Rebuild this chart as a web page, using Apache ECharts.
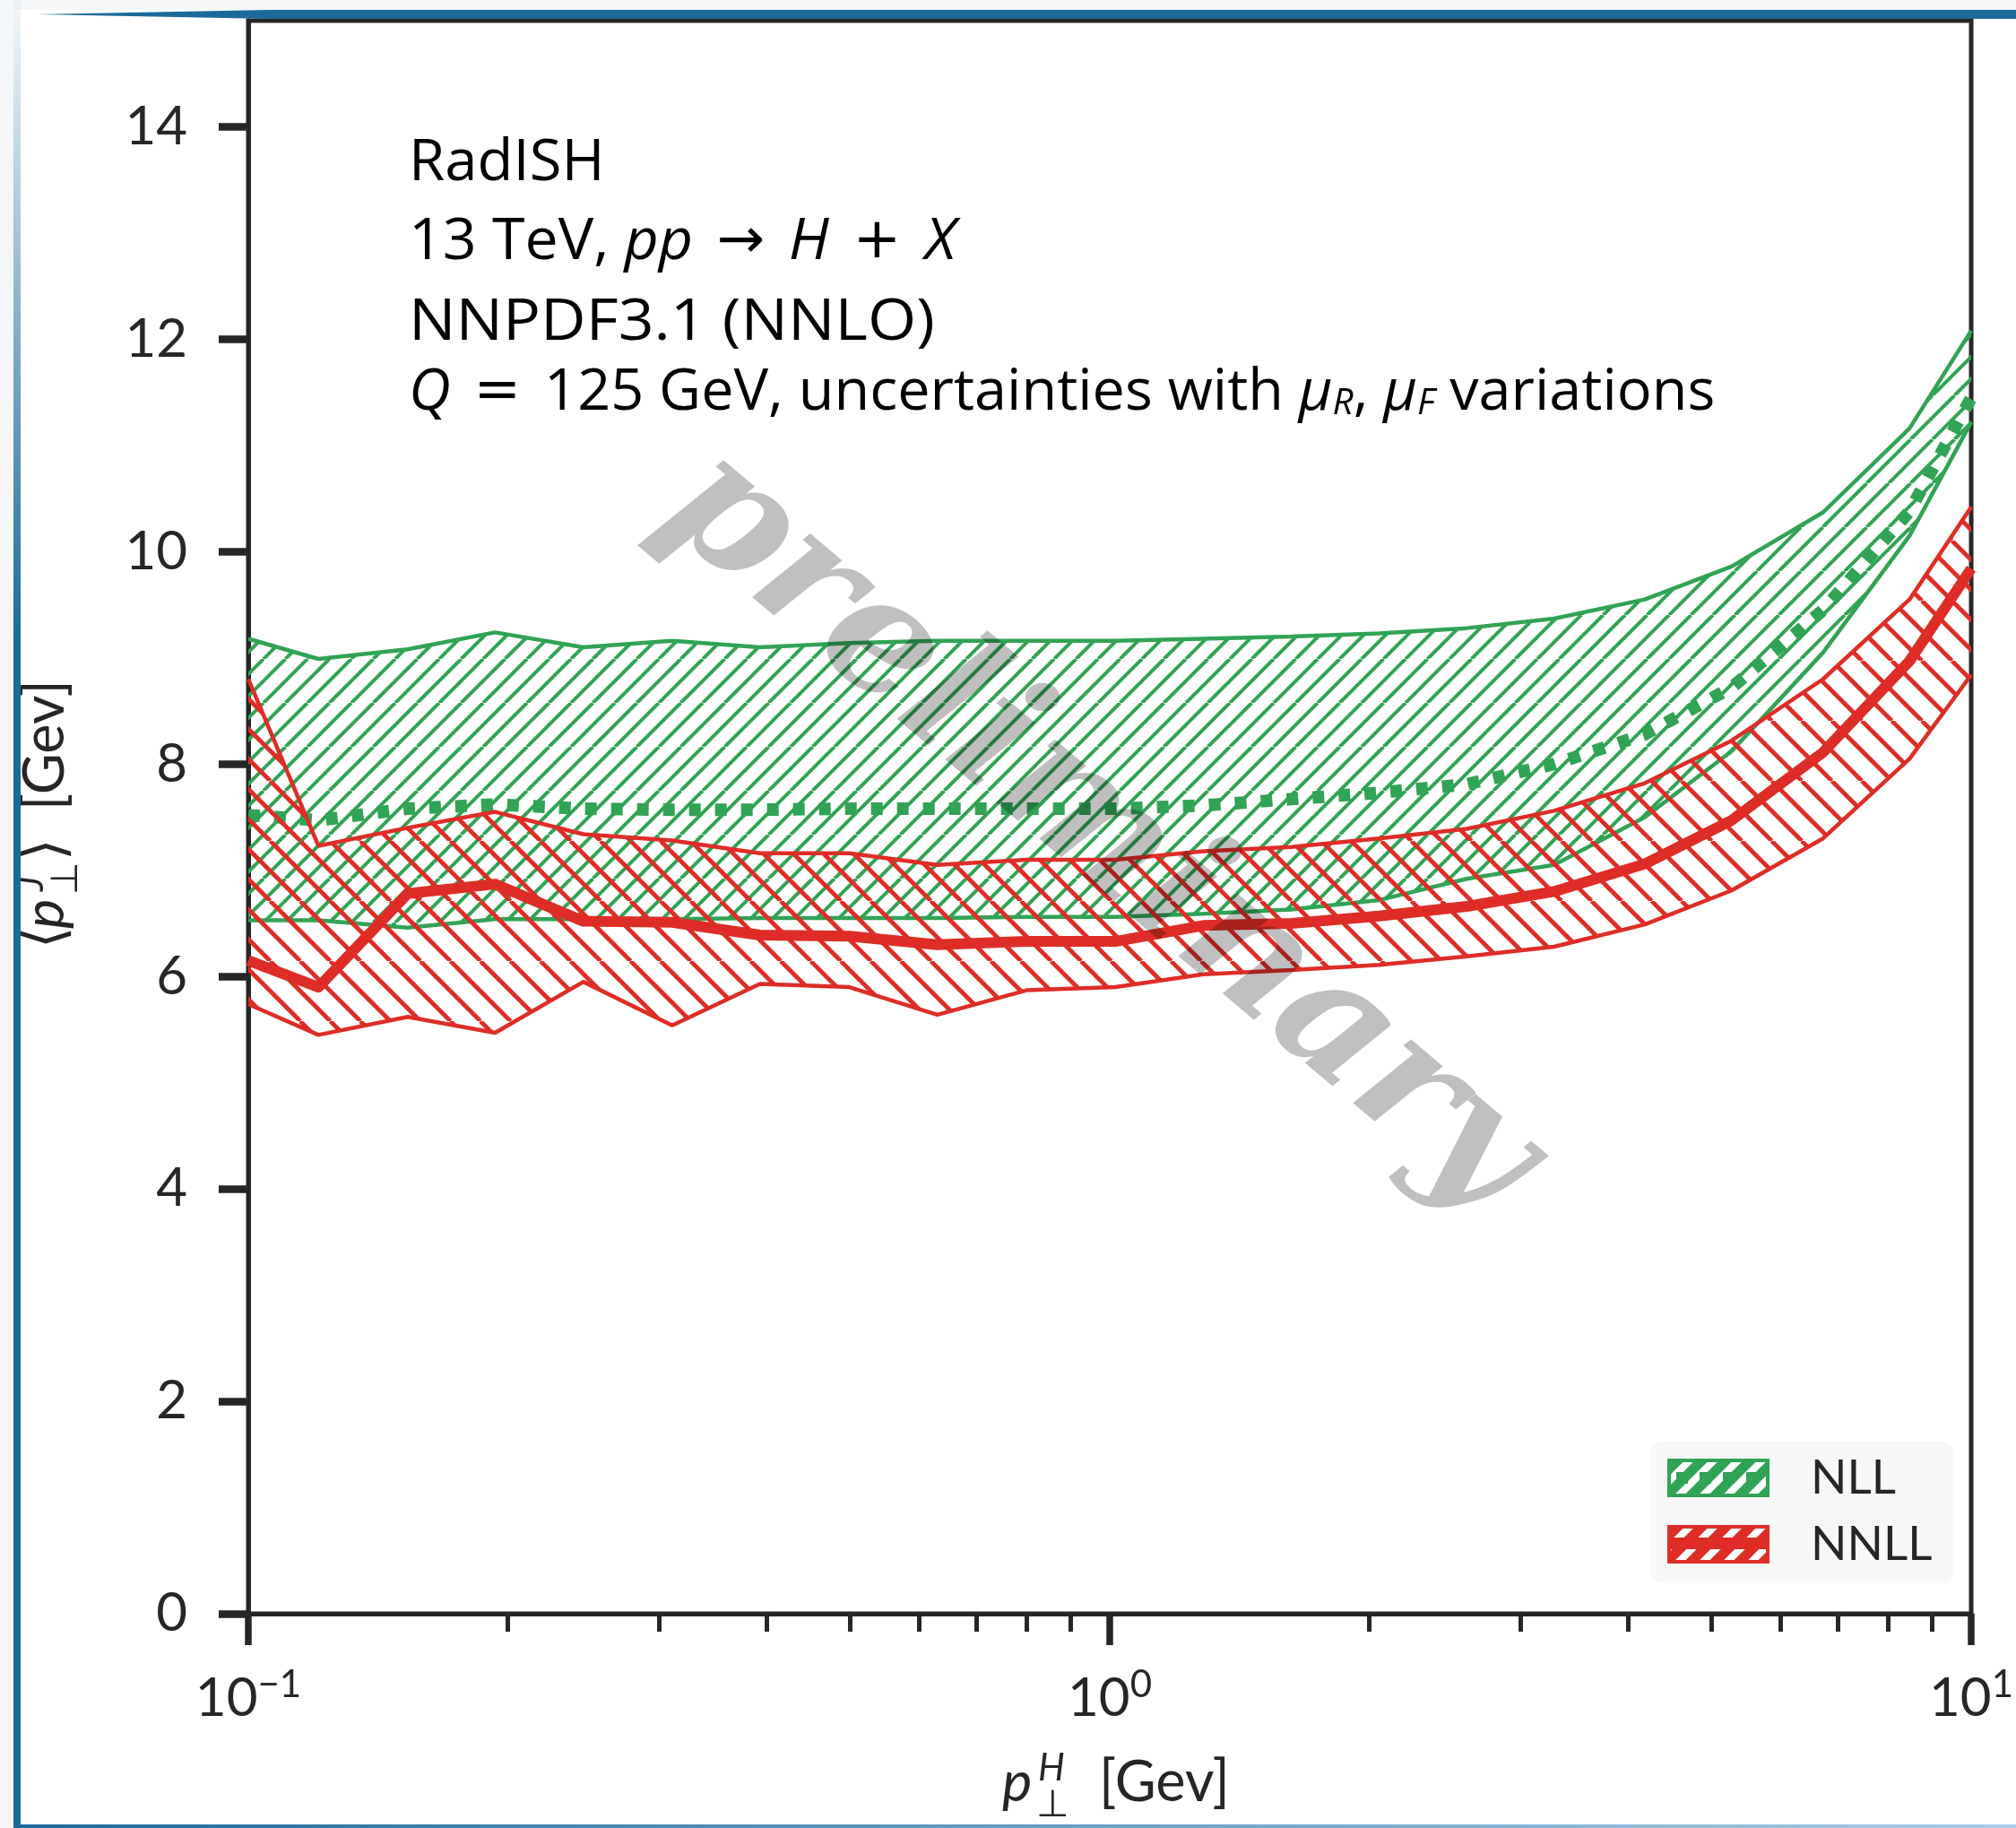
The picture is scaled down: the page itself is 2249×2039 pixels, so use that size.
<!DOCTYPE html>
<html>
<head>
<meta charset="utf-8">
<title>RadISH mean jet pT</title>
<script src="https://cdn.jsdelivr.net/npm/echarts@6/dist/echarts.min.js"></script>
<style>
  html, body { margin: 0; padding: 0; background: #fff; }
  #chart { width: 2249px; height: 2039px; }
</style>
</head>
<body>
<div id="chart"></div>
<script>
// p_T^H grid (GeV), log spaced
const ptH = [0.1, 0.1206, 0.1531, 0.1934, 0.2449, 0.3105, 0.3925, 0.4986, 0.6307, 0.8004,
  1.0155, 1.284, 1.624, 2.055, 2.597, 3.279, 4.18, 5.27, 6.73, 8.48, 10];

// NLL band and central value
const nllUpper = [9.18, 8.99, 9.08, 9.24, 9.10, 9.16, 9.10, 9.14, 9.16, 9.16,
  9.16, 9.18, 9.20, 9.23, 9.28, 9.37, 9.55, 9.86, 10.37, 11.16, 12.08];
const nllCentral = [7.52, 7.47, 7.58, 7.62, 7.58, 7.57, 7.57, 7.58, 7.58, 7.58,
  7.58, 7.61, 7.67, 7.73, 7.81, 8.00, 8.28, 8.72, 9.45, 10.38, 11.45];
const nllLower = [6.53, 6.53, 6.46, 6.54, 6.54, 6.54, 6.55, 6.55, 6.55, 6.56,
  6.56, 6.59, 6.63, 6.72, 6.92, 7.05, 7.50, 8.12, 9.05, 10.15, 11.22];

// NNLL band and central value
const nnllUpper = [8.80, 7.23, 7.40, 7.55, 7.34, 7.28, 7.16, 7.16, 7.05, 7.10,
  7.10, 7.18, 7.22, 7.30, 7.39, 7.56, 7.82, 8.22, 8.80, 9.55, 10.42];
const nnllCentral = [6.15, 5.90, 6.78, 6.87, 6.52, 6.51, 6.39, 6.38, 6.30, 6.33,
  6.33, 6.48, 6.50, 6.57, 6.66, 6.80, 7.06, 7.47, 8.11, 8.97, 9.84];
const nnllLower = [5.74, 5.45, 5.62, 5.47, 5.95, 5.54, 5.93, 5.90, 5.64, 5.87,
  5.90, 6.02, 6.06, 6.11, 6.19, 6.28, 6.49, 6.81, 7.30, 8.05, 8.84];

const yTicks = [0, 2, 4, 6, 8, 10, 12, 14];
const xMinorTicks = [0.2, 0.3, 0.4, 0.5, 0.6, 0.7, 0.8, 0.9, 2, 3, 4, 5, 6, 7, 8, 9];

const GREEN = '#31a354';
const RED = '#de2d26';
const INK = '#262626';
const FONT = 'Lato, "DejaVu Sans", sans-serif';
const NOTE_FONT = '"Open Sans", "DejaVu Sans", sans-serif';

// diagonal hatch tile, two lines per tile so the spacing can be fractional
function hatch(color, step, width, dir) {
  const size = Math.round(step * 2);
  const c = document.createElement('canvas');
  c.width = size; c.height = size;
  const g = c.getContext('2d');
  g.strokeStyle = color;
  g.lineWidth = width;
  for (let k = -2; k <= 4; k++) {
    const x = k * size / 2;
    g.beginPath();
    if (dir === '/') { g.moveTo(x, size); g.lineTo(x + size, 0); }
    else { g.moveTo(x, 0); g.lineTo(x + size, size); }
    g.stroke();
  }
  return { image: c, repeat: 'repeat' };
}

function legendIcon(color, dotted) {
  const c = document.createElement('canvas');
  c.width = 155; c.height = 43;
  const g = c.getContext('2d');
  g.fillStyle = color;
  g.fillRect(0, 0, 114, 43);
  g.save();
  g.beginPath(); g.rect(4, 4, 106, 35); g.clip();
  g.strokeStyle = '#fff'; g.lineWidth = 8;
  for (let x = -43; x < 160; x += 27) {
    g.beginPath(); g.moveTo(x, 43); g.lineTo(x + 43, 0); g.stroke();
  }
  g.restore();
  g.fillStyle = color;
  if (dotted) {
    for (let x = 10; x < 110; x += 26) g.fillRect(x, 15, 13, 13);
  } else {
    g.fillRect(0, 14, 114, 13);
  }
  g.strokeStyle = color; g.lineWidth = 4;
  g.strokeRect(2, 2, 110, 39);
  return 'image://' + c.toDataURL();
}

const pairs = ys => ptH.map((x, i) => [x, ys[i]]);

// hatched band between lower and upper, plus its two edge lines
function band(name, lower, upper, color, pattern, z) {
  return [
    {
      name: name, type: 'custom', z: z, silent: true,
      data: ptH.map((x, i) => [x, lower[i], upper[i]]),
      encode: { x: 0, y: [1, 2] },
      renderItem: function (params, api) {
        if (params.dataIndex !== 0) return null;
        const pts = [];
        for (let i = 0; i < ptH.length; i++) pts.push(api.coord([ptH[i], upper[i]]));
        for (let i = ptH.length - 1; i >= 0; i--) pts.push(api.coord([ptH[i], lower[i]]));
        return { type: 'polygon', shape: { points: pts }, style: { fill: pattern, stroke: null } };
      }
    },
    {
      name: name + ' up', type: 'line', data: pairs(upper), symbol: 'none', silent: true, z: z,
      lineStyle: { color: color, width: 4.5 }
    },
    {
      name: name + ' low', type: 'line', data: pairs(lower), symbol: 'none', silent: true, z: z,
      lineStyle: { color: color, width: 4.5 }
    }
  ];
}

const chart = echarts.init(document.getElementById('chart'), null, { renderer: 'canvas' });

function note(text, baseline, stretch) {
  return {
    type: 'text', x: 456, y: baseline - 50, scaleX: stretch, z: 50, silent: true,
    style: {
      text: text, fontFamily: NOTE_FONT, fontSize: 64, lineHeight: 64, fill: '#000',
      verticalAlign: 'top', textVerticalAlign: 'top',
      rich: {
        i: { fontFamily: NOTE_FONT, fontSize: 64, lineHeight: 64, fontStyle: 'italic', fill: '#000' },
        o: { fontFamily: '"DejaVu Sans", sans-serif', fontSize: 62, lineHeight: 64, fill: '#000', padding: [0, 9, 0, 9] },
        s: { fontFamily: NOTE_FONT, fontSize: 40, lineHeight: 28, fontStyle: 'italic', fill: '#000', verticalAlign: 'bottom' }
      }
    }
  };
}

function label(text, x, y, size, italic) {
  return {
    type: 'text', x: x, y: y, silent: true,
    style: {
      text: text, fontFamily: FONT, fontSize: size, lineHeight: size,
      fontStyle: italic ? 'italic' : 'normal', fill: INK,
      verticalAlign: 'top', textVerticalAlign: 'top'
    }
  };
}

chart.setOption({
  animation: false,
  backgroundColor: '#fff',
  grid: {
    left: 277, right: 38, top: 23, bottom: 239,
    show: true, borderColor: INK, borderWidth: 5, backgroundColor: 'transparent'
  },
  legend: {
    orient: 'vertical', left: 1842, top: 1608,
    padding: [14, 24, 17, 18], itemGap: 21,
    itemWidth: 155, itemHeight: 43,
    backgroundColor: '#f7f7f7', borderRadius: 12,
    selectedMode: false,
    textStyle: { color: INK, fontFamily: FONT, fontSize: 53 },
    data: [
      { name: 'NLL', icon: legendIcon(GREEN, true) },
      { name: 'NNLL', icon: legendIcon(RED, false) }
    ]
  },
  xAxis: [
    {
      type: 'log', logBase: 10, min: 0.1, max: 10,
      axisLine: { show: true, lineStyle: { color: INK, width: 5 } },
      axisTick: { show: true, length: 35, lineStyle: { color: INK, width: 7.5 } },
      splitLine: { show: false },
      axisLabel: {
        margin: 58,
        formatter: v => '{b|10}{s|' + String(Math.round(Math.log10(v))).replace('-', '\u2212') + '}',
        rich: {
          b: { color: INK, fontFamily: FONT, fontSize: 60, lineHeight: 74 },
          s: { color: INK, fontFamily: FONT, fontSize: 42, lineHeight: 42, verticalAlign: 'top' }
        }
      }
    },
    {
      type: 'log', logBase: 10, min: 0.1, max: 10, position: 'bottom',
      axisLine: { show: false },
      axisLabel: { show: false },
      splitLine: { show: false },
      axisTick: { show: true, length: 20, customValues: xMinorTicks, lineStyle: { color: INK, width: 5 } }
    }
  ],
  yAxis: {
    type: 'value', min: 0, max: 15, interval: 2,
    axisLine: { show: true, lineStyle: { color: INK, width: 5 } },
    axisTick: { show: true, length: 33, customValues: yTicks, lineStyle: { color: INK, width: 8.5 } },
    splitLine: { show: false },
    axisLabel: { margin: 68, customValues: yTicks, color: INK, fontFamily: FONT, fontSize: 60 }
  },
  series: [
    ...band('NLL', nllLower, nllUpper, GREEN, hatch(GREEN, 24.5, 4, '/'), 2),
    {
      name: 'NLL central', type: 'line', data: pairs(nllCentral), symbol: 'none', silent: true, z: 3,
      lineStyle: { color: GREEN, width: 14, type: [13, 16], cap: 'butt' }
    },
    ...band('NNLL', nnllLower, nnllUpper, RED, hatch(RED, 33.5, 4.8, '\\'), 4),
    {
      name: 'NNLL central', type: 'line', data: pairs(nnllCentral), symbol: 'none', silent: true, z: 5,
      lineStyle: { color: RED, width: 12, join: 'round' }
    }
  ],
  graphic: [
    // slide frame
    { type: 'rect', silent: true, z: 0, shape: { x: 0, y: 0, width: 2249, height: 11 }, style: { fill: '#f5f6f7' } },
    { type: 'rect', silent: true, z: 0, shape: { x: 0, y: 0, width: 15, height: 2039 }, style: { fill: '#f5f6f7' } },
    {
      type: 'polygon', silent: true, z: 1,
      shape: { points: [[42, 16], [300, 11], [2249, 11], [2249, 21], [300, 21]] },
      style: { fill: '#1c6a9c' }
    },
    {
      type: 'rect', silent: true, z: 1, shape: { x: 15, y: 0, width: 8, height: 2039 },
      style: {
        fill: new echarts.graphic.LinearGradient(0, 0, 0, 1, [
          { offset: 0, color: 'rgba(28,106,156,0.05)' },
          { offset: 0.35, color: 'rgba(28,106,156,1)' },
          { offset: 1, color: 'rgba(28,106,156,1)' }
        ])
      }
    },
    {
      type: 'rect', silent: true, z: 1, shape: { x: 15, y: 2035, width: 2234, height: 4 },
      style: {
        fill: new echarts.graphic.LinearGradient(0, 0, 1, 0, [
          { offset: 0, color: '#1c6a9c' },
          { offset: 1, color: '#a9cde6' }
        ])
      }
    },
    // annotations
    note('RadISH', 201, 1.02),
    note('13 TeV, {i|pp} {o|\u2192} {i|H} {o|+} {i|X}', 289, 1.035),
    note('NNPDF3.1 (NNLO)', 379, 1.09),
    note('{i|Q} {o|=} 125 GeV, uncertainties with {i|\u03bc}{s|R}, {i|\u03bc}{s|F} variations', 457, 1.012),
    // x axis title
    label('p', 1118, 1957, 63, true),
    label('H', 1158, 1951, 42, true),
    label('\u22a5', 1156, 1991, 42, false),
    label('[Gev]', 1226, 1957, 63, false),
    // y axis title (rotated)
    {
      type: 'group', x: 71, y: 1056, rotation: Math.PI / 2, silent: true,
      children: [
        label('\u27e8', -2, -52, 63, false),
        label('p', 20, -52, 63, true),
        label('J', 62, -58, 42, true),
        label('\u22a5', 58, -20, 42, false),
        label('\u27e9', 96, -52, 63, false),
        label('[Gev]', 152, -52, 63, false)
      ]
    },
    // watermark
    {
      type: 'text', x: 1226, y: 929, rotation: -0.70, z: 100, silent: true,
      style: {
        text: 'preliminary', fontFamily: '"DejaVu Serif", serif', fontSize: 185,
        fontStyle: 'italic', fontWeight: 'bold', fill: 'rgba(0,0,0,0.25)',
        align: 'center', verticalAlign: 'middle', textAlign: 'center', textVerticalAlign: 'middle'
      }
    }
  ]
});
</script>
</body>
</html>
